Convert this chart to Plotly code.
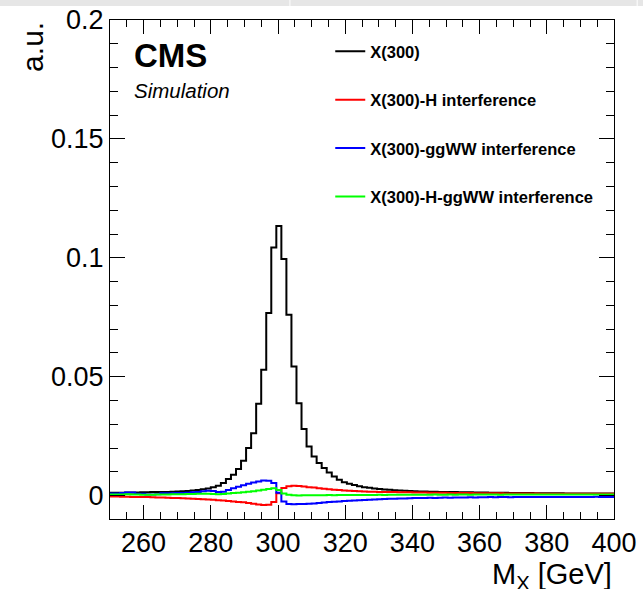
import plotly.graph_objects as go

# Bin edges: 100 bins of 1.5 GeV from 250 to 400
bin_lo = 250.0
bin_width = 1.5
n_bins = 100

x300 = [0.0012, 0.0012, 0.0012, 0.0013, 0.0013, 0.0013, 0.0014, 0.0014, 0.0015, 0.0015,
        0.0016, 0.0016, 0.0017, 0.0018, 0.0019, 0.0020, 0.0022, 0.0024, 0.0027, 0.0030,
        0.0035, 0.0042, 0.0053, 0.0070, 0.0088, 0.0112, 0.0147, 0.0200, 0.0263, 0.0387,
        0.0530, 0.0768, 0.1043, 0.1134, 0.0995, 0.0761, 0.0543, 0.0389, 0.0280, 0.0207,
        0.0165, 0.0137, 0.0116, 0.0098, 0.0081, 0.0067, 0.0057, 0.0050, 0.0045, 0.0040,
        0.0036, 0.0033, 0.0030, 0.0028, 0.0026, 0.0025, 0.0023, 0.0022, 0.0021, 0.0020,
        0.0019, 0.0018, 0.0018, 0.0017, 0.0017, 0.0016, 0.0016, 0.0015, 0.0015, 0.0014,
        0.0014, 0.0014, 0.0013, 0.0013, 0.0013, 0.0012, 0.0012, 0.0012, 0.0012, 0.0011,
        0.0011, 0.0011, 0.0011, 0.0011, 0.0010, 0.0010, 0.0010, 0.0010, 0.0010, 0.0010,
        0.0009, 0.0009, 0.0009, 0.0009, 0.0009, 0.0009, 0.0009, 0.0009, 0.0009, 0.0009]

x300_h = [-0.0003, -0.0003, -0.0004, -0.0004, -0.0005, -0.0005, -0.0006, -0.0006, -0.0007, -0.0008,
          -0.0008, -0.0009, -0.0010, -0.0010, -0.0011, -0.0012, -0.0013, -0.0014, -0.0015, -0.0016,
          -0.0017, -0.0019, -0.0020, -0.0022, -0.0024, -0.0026, -0.0028, -0.0031, -0.0034, -0.0037,
          -0.0039, -0.0038, -0.0026, 0.0010, 0.0032, 0.0040, 0.0042, 0.0041, 0.0039, 0.0036,
          0.0034, 0.0031, 0.0029, 0.0027, 0.0025, 0.0024, 0.0022, 0.0021, 0.0020, 0.0019,
          0.0018, 0.0017, 0.0017, 0.0016, 0.0016, 0.0015, 0.0015, 0.0014, 0.0014, 0.0014,
          0.0013, 0.0013, 0.0013, 0.0012, 0.0012, 0.0012, 0.0012, 0.0011, 0.0011, 0.0011,
          0.0011, 0.0011, 0.0010, 0.0010, 0.0010, 0.0010, 0.0010, 0.0010, 0.0009, 0.0009,
          0.0009, 0.0009, 0.0009, 0.0009, 0.0009, 0.0008, 0.0008, 0.0008, 0.0008, 0.0008,
          0.0008, 0.0008, 0.0008, 0.0008, 0.0008, 0.0008, 0.0008, 0.0008, 0.0008, 0.0008]

x300_ggww = [0.0009, 0.0009, 0.0011, 0.0013, 0.0013, 0.0008, 0.0008, 0.0005, 0.0005, 0.0006,
             0.0010, 0.0010, 0.0010, 0.0011, 0.0011, 0.0012, 0.0014, 0.0016, 0.0019, 0.0021,
             0.0020, 0.0016, 0.0017, 0.0024, 0.0031, 0.0038, 0.0044, 0.0050, 0.0055, 0.0060,
             0.0064, 0.0063, 0.0053, 0.0012, -0.0024, -0.0035, -0.0036, -0.0035, -0.0035, -0.0034,
             -0.0033, -0.0031, -0.0029, -0.0027, -0.0025, -0.0024, -0.0022, -0.0021, -0.0020, -0.0019,
             -0.0018, -0.0017, -0.0016, -0.0015, -0.0014, -0.0013, -0.0013, -0.0012, -0.0012, -0.0011,
             -0.0010, -0.0010, -0.0010, -0.0009, -0.0010, -0.0009, -0.0008, -0.0009, -0.0008, -0.0008,
             -0.0008, -0.0007, -0.0008, -0.0007, -0.0007, -0.0006, -0.0007, -0.0006, -0.0006, -0.0007,
             -0.0006, -0.0006, -0.0005, -0.0006, -0.0006, -0.0005, -0.0006, -0.0005, -0.0005, -0.0006,
             -0.0005, -0.0005, -0.0006, -0.0005, -0.0005, -0.0005, -0.0004, -0.0005, -0.0005, -0.0005]

x300_h_ggww = [0.0005, 0.0005, 0.0005, 0.0006, 0.0005, 0.0005, 0.0004, 0.0004, 0.0004, 0.0005,
               0.0005, 0.0005, 0.0006, 0.0006, 0.0006, 0.0007, 0.0007, 0.0008, 0.0008, 0.0008,
               0.0007, 0.0006, 0.0007, 0.0009, 0.0011, 0.0012, 0.0014, 0.0017, 0.0019, 0.0022,
               0.0025, 0.0028, 0.0031, 0.0024, 0.0009, 0.0004, 0.0002, 0.0001, 0.0002, 0.0002,
               0.0002, 0.0002, 0.0002, 0.0003, 0.0002, 0.0003, 0.0003, 0.0003, 0.0003, 0.0003,
               0.0003, 0.0003, 0.0003, 0.0004, 0.0003, 0.0004, 0.0004, 0.0004, 0.0004, 0.0004,
               0.0004, 0.0004, 0.0004, 0.0004, 0.0005, 0.0004, 0.0004, 0.0005, 0.0004, 0.0005,
               0.0005, 0.0004, 0.0005, 0.0005, 0.0005, 0.0005, 0.0005, 0.0004, 0.0005, 0.0005,
               0.0005, 0.0005, 0.0005, 0.0005, 0.0005, 0.0005, 0.0005, 0.0005, 0.0005, 0.0005,
               0.0005, 0.0005, 0.0005, 0.0005, 0.0005, 0.0005, 0.0005, 0.0005, 0.0005, 0.0005]

series_names = ["X(300)", "X(300)-H interference", "X(300)-ggWW interference",
                "X(300)-H-ggWW interference"]
series_colors = ["#000000", "#ff0000", "#0000ff", "#00ff00"]
series_values = [x300, x300_h, x300_ggww, x300_h_ggww]

edges = [bin_lo + bin_width * i for i in range(n_bins + 1)]

FONT = "Liberation Sans, Arial, Helvetica, sans-serif"

fig = go.Figure()
for name, color, vals in zip(series_names, series_colors, series_values):
    fig.add_trace(go.Scatter(
        x=edges, y=list(vals) + [vals[-1]],
        mode="lines", line=dict(color=color, width=2, shape="hv"),
        name="<b>" + name + "</b>", legendgroup=name,
        hoverinfo="skip",
    ))

axis_common = dict(
    showline=True, linecolor="black", linewidth=1, mirror="allticks",
    ticks="inside", tickcolor="black", tickwidth=1,
    showgrid=False, zeroline=False, automargin=False,
    tickfont=dict(family=FONT, size=27, color="black"),
)

fig.update_xaxes(
    range=[250, 400], dtick=20, tick0=260, ticklen=14,
    minor=dict(ticks="inside", dtick=5, ticklen=7, tickcolor="black", showgrid=False),
    **axis_common,
)
fig.update_yaxes(
    range=[-0.0098, 0.2], tickvals=[0, 0.05, 0.1, 0.15, 0.2],
    ticktext=["0", "0.05", "0.1", "0.15", "0.2"], ticklen=15,
    minor=dict(ticks="inside", dtick=0.01, tick0=0, ticklen=8, tickcolor="black", showgrid=False),
    **axis_common,
)

fig.update_layout(
    width=643, height=589,
    margin=dict(l=110, r=29, t=20, b=70, autoexpand=False),
    paper_bgcolor="white", plot_bgcolor="white",
    showlegend=True,
    legend=dict(
        x=0.437, y=0.972, xanchor="left", yanchor="top",
        bgcolor="rgba(0,0,0,0)", borderwidth=0,
        font=dict(family=FONT, size=16.5, color="black"),
        tracegroupgap=24, itemwidth=30,
    ),
    annotations=[
        dict(text="<b>CMS</b>", x=0.043, y=0.928, xref="paper", yref="paper",
             xanchor="left", yanchor="middle", showarrow=False,
             font=dict(family=FONT, size=33, color="black")),
        dict(text="<i>Simulation</i>", x=0.043, y=0.858, xref="paper", yref="paper",
             xanchor="left", yanchor="middle", showarrow=False,
             font=dict(family=FONT, size=20.5, color="black")),
        dict(text="M<sub>X</sub> [GeV]", x=1.0, y=-0.115, xref="paper", yref="paper",
             xanchor="right", yanchor="middle", showarrow=False,
             font=dict(family=FONT, size=29, color="black")),
        dict(text="a.u.", x=-0.155, y=1.0, xref="paper", yref="paper",
             xanchor="center", yanchor="top", showarrow=False, textangle=-90,
             font=dict(family=FONT, size=30, color="black")),
    ],
    shapes=[
        dict(type="rect", xref="paper", yref="paper", x0=-0.3, x1=1.1,
             y0=1.028, y1=1.05, fillcolor="#e6e6e6", line=dict(width=0), layer="below"),
        dict(type="line", xref="paper", yref="paper", x0=0.357, x1=0.357,
             y0=1.028, y1=1.05, line=dict(color="white", width=1)),
        dict(type="line", xref="paper", yref="paper", x0=1.046, x1=1.046,
             y0=1.028, y1=1.05, line=dict(color="white", width=1)),
    ],
)

fig.write_html("out.html")
